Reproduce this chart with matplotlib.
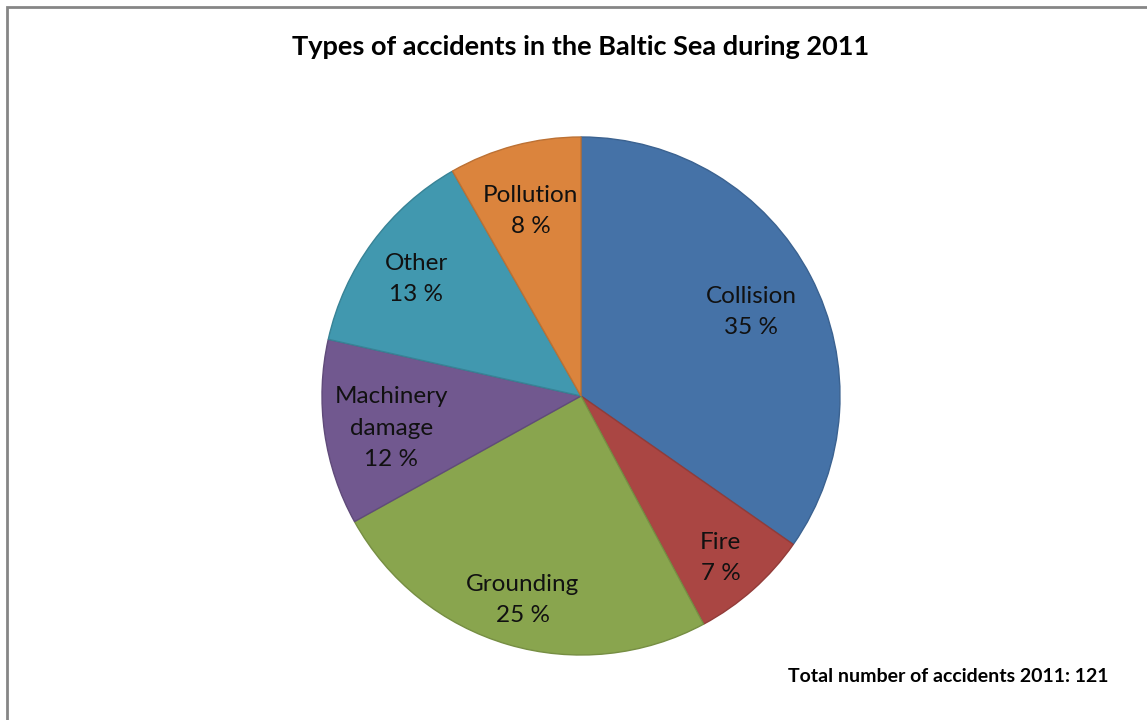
import matplotlib.pyplot as plt
import numpy as np

# Datos del gráfico (número de accidentes por tipo)
tipos = ['Collision', 'Fire', 'Grounding', 'Machinery\ndamage', 'Other', 'Pollution']
accidentes = [42, 9, 30, 14, 16, 10]
colores = ['#4572A7', '#AA4643', '#89A54E', '#71588F', '#4198AF', '#DB843D']
bordes = ['#3B6290', '#923C39', '#768E43', '#604B7A', '#388396', '#BC7134']
total_accidentes = sum(accidentes)

plt.rcParams['font.family'] = ['Lato', 'DejaVu Sans']

fig = plt.figure(figsize=(11.47, 7.2), dpi=100)
W, H = 1147, 720

# Marco gris del área del gráfico
fig.patches.append(plt.Rectangle((7 / W, -0.1), 1.2, (H - 7) / H + 0.1,
                                 transform=fig.transFigure, fill=False,
                                 edgecolor='#868686', linewidth=2))

cx, cy, r = 581, 396, 259
ax = fig.add_axes([(cx - r) / W, (H - cy - r) / H, 2 * r / W, 2 * r / H])
wedges, _ = ax.pie(accidentes, colors=colores, startangle=90, counterclock=False,
                   wedgeprops=dict(linewidth=1))
for w, c in zip(wedges, bordes):
    w.set_edgecolor(c)
ax.set_xlim(-1, 1)
ax.set_ylim(-1, 1)
ax.set_aspect('equal')
ax.axis('off')

# Etiquetas dentro de cada sector
distancias = [0.74, 0.81, 0.80, 0.74, 0.79, 0.76]
for w, nombre, n, d in zip(wedges, tipos, accidentes, distancias):
    ang = np.deg2rad((w.theta1 + w.theta2) / 2)
    pct = round(100 * n / total_accidentes)
    ax.annotate(f'{nombre}\n{pct} %', (d * np.cos(ang), d * np.sin(ang)),
                xytext=(0, -3.5), textcoords='offset points',
                ha='center', va='center', fontsize=17.5, color='#111111',
                linespacing=1.6)

fig.text(cx / W, 1 - 47 / H, 'Types of accidents in the Baltic Sea during 2011',
         ha='center', va='center', fontsize=19.5, fontweight='bold')
fig.text(1108 / W, 1 - 677 / H, f'Total number of accidents 2011: {total_accidentes}',
         ha='right', va='center', fontsize=14, fontweight='bold')

fig.savefig('out.png', dpi=100)
